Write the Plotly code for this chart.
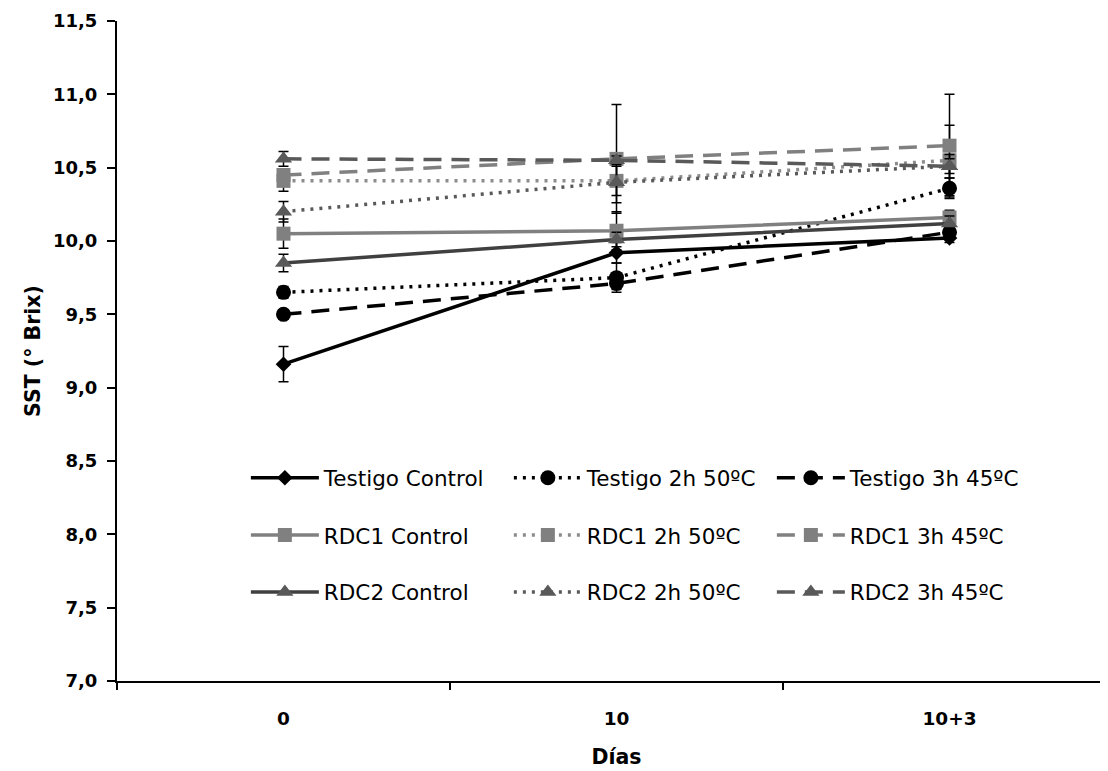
import plotly.graph_objects as go

days = ["0", "10", "10+3"]

series_names = [
    "Testigo Control", "Testigo 2h 50ºC", "Testigo 3h 45ºC",
    "RDC1 Control", "RDC1 2h 50ºC", "RDC1 3h 45ºC",
    "RDC2 Control", "RDC2 2h 50ºC", "RDC2 3h 45ºC",
]

testigo_control = [9.16, 9.92, 10.02]
testigo_2h50 = [9.65, 9.75, 10.36]
testigo_3h45 = [9.50, 9.71, 10.06]
rdc1_control = [10.05, 10.07, 10.16]
rdc1_2h50 = [10.41, 10.41, 10.55]
rdc1_3h45 = [10.45, 10.56, 10.65]
rdc2_control = [9.85, 10.01, 10.12]
rdc2_2h50 = [10.20, 10.40, 10.51]
rdc2_3h45 = [10.56, 10.55, 10.51]

err_testigo_control = [0.12, 0.07, 0.03]
err_testigo_2h50 = [0.04, 0.10, 0.07]
err_testigo_3h45 = [0.03, 0.04, 0.04]
err_rdc1_control = [0.10, 0.13, 0.05]
err_rdc1_2h50 = [0.07, 0.10, 0.24]
err_rdc1_3h45 = [0.03, 0.37, 0.35]
err_rdc2_control = [0.06, 0.05, 0.05]
err_rdc2_2h50 = [0.07, 0.14, 0.08]
err_rdc2_3h45 = [0.05, 0.03, 0.05]

values = [testigo_control, testigo_2h50, testigo_3h45,
          rdc1_control, rdc1_2h50, rdc1_3h45,
          rdc2_control, rdc2_2h50, rdc2_3h45]
errors = [err_testigo_control, err_testigo_2h50, err_testigo_3h45,
          err_rdc1_control, err_rdc1_2h50, err_rdc1_3h45,
          err_rdc2_control, err_rdc2_2h50, err_rdc2_3h45]

DOT = "3px,6px"
DASH = "18px,10px"
styles = [
    dict(line="#000000", marker="#000000", dash="solid", symbol="diamond", size=12),
    dict(line="#000000", marker="#000000", dash=DOT, symbol="circle", size=15),
    dict(line="#000000", marker="#000000", dash=DASH, symbol="circle", size=15),
    dict(line="#808080", marker="#808080", dash="solid", symbol="square", size=14),
    dict(line="#8c8c8c", marker="#808080", dash=DOT, symbol="square", size=14),
    dict(line="#808080", marker="#808080", dash=DASH, symbol="square", size=14),
    dict(line="#404040", marker="#595959", dash="solid", symbol="triangle-up", size=15),
    dict(line="#595959", marker="#595959", dash=DOT, symbol="triangle-up", size=15),
    dict(line="#595959", marker="#595959", dash=DASH, symbol="triangle-up", size=15),
]

legend_ids = ["legend", "legend", "legend", "legend2", "legend2", "legend2",
              "legend3", "legend3", "legend3"]

fig = go.Figure()
for name, vals, errs, st, lg in zip(series_names, values, errors, styles, legend_ids):
    fig.add_trace(go.Scatter(
        x=days, y=vals, name=name, mode="lines+markers",
        line=dict(color=st["line"], width=3.5, dash=st["dash"]),
        marker=dict(color=st["marker"], symbol=st["symbol"], size=st["size"]),
        error_y=dict(type="data", array=errs, visible=True, color="#000000",
                     thickness=1.5, width=5),
        legend=lg,
    ))

legend_common = dict(
    orientation="h", x=0.129, xanchor="left", yanchor="middle",
    font=dict(family="DejaVu Sans", size=21.5, color="#000000"),
    itemwidth=68, entrywidth=180, entrywidthmode="pixels",
    bgcolor="rgba(0,0,0,0)", borderwidth=0,
)

fig.update_layout(
    width=1108, height=771,
    margin=dict(l=109, r=0, t=13, b=98, autoexpand=False),
    paper_bgcolor="white", plot_bgcolor="white",
    font=dict(family="DejaVu Sans", color="#000000"),
    legend=dict(y=0.308, **legend_common),
    legend2=dict(y=0.221, **legend_common),
    legend3=dict(y=0.135, **legend_common),
    xaxis=dict(
        type="category", range=[-0.5, 2.5], automargin=False,
        showgrid=False, zeroline=False,
        showline=True, linecolor="#000000", linewidth=2,
        ticks="outside", tickson="boundaries", ticklen=7, tickcolor="#000000", tickwidth=1.5,
        tickfont=dict(family="DejaVu Sans", size=18.5, color="#000000", weight="bold"),
        ticklabelstandoff=20,
        title=dict(text="<b>Días</b>", font=dict(family="DejaVu Sans", size=20.5, color="#000000"),
                   standoff=21),
    ),
    yaxis=dict(
        range=[7.0, 11.5], dtick=0.5, tickformat=".1f", automargin=False,
        showgrid=False, zeroline=False,
        showline=True, linecolor="#000000", linewidth=2,
        ticks="outside", ticklen=8, tickcolor="#000000", tickwidth=1.5,
        tickfont=dict(family="DejaVu Sans", size=18, color="#000000", weight="bold"),
        ticklabelstandoff=6,
        title=dict(text="<b>SST (° Brix)</b>", font=dict(family="DejaVu Sans", size=20.5, color="#000000"),
                   standoff=7),
    ),
    separators=",.",
    showlegend=True,
)

fig.write_html("out.html")
